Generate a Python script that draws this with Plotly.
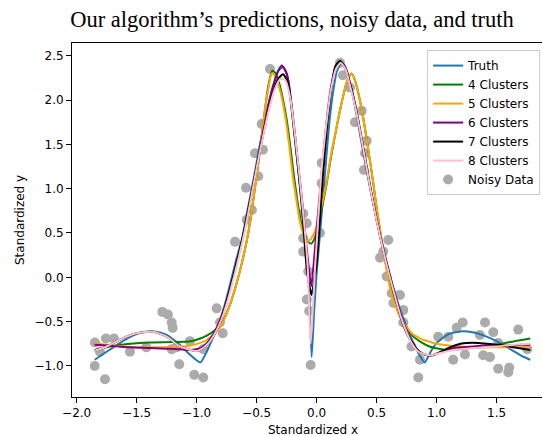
import plotly.graph_objects as go

# ---------------- data ----------------
truth_x = [-1.85, -1.75, -1.65, -1.55, -1.45, -1.35, -1.25, -1.15, -1.05, -0.97, -0.92, -0.87, -0.82, -0.77,
           -0.72, -0.67, -0.62, -0.57, -0.52, -0.47, -0.42, -0.37, -0.32, -0.28, -0.24, -0.2, -0.16, -0.12,
           -0.09, -0.065, -0.042, -0.02, 0.0, 0.025, 0.05, 0.08, 0.11, 0.14, 0.17, 0.21, 0.25, 0.29, 0.33,
           0.37, 0.41, 0.45, 0.5, 0.55, 0.6, 0.65, 0.7, 0.75, 0.8, 0.85, 0.9, 0.95, 1.0, 1.1, 1.2, 1.3, 1.4,
           1.5, 1.6, 1.7, 1.78]
truth_y = [-0.93, -0.84, -0.75, -0.67, -0.62, -0.61, -0.65, -0.75, -0.88, -0.96, -0.85, -0.70, -0.55, -0.33,
           -0.07, 0.2, 0.45, 0.8, 1.15, 1.52, 1.85, 2.13, 2.33, 2.37, 2.25, 1.8, 1.3, 0.8,
           0.35, -0.1, -0.9, -0.35, 0.05, 0.45, 0.85, 1.35, 1.8, 2.12, 2.33, 2.42, 2.33, 2.12, 1.85,
           1.55, 1.25, 0.98, 0.65, 0.35, 0.08, -0.17, -0.38, -0.56, -0.72, -0.86, -0.96, -0.84, -0.74, -0.64,
           -0.61, -0.62, -0.66, -0.72, -0.8, -0.88, -0.93]

c4_x = [-1.85, -1.7, -1.55, -1.4, -1.2, -1.05, -0.97, -0.92, -0.87, -0.82, -0.77, -0.72, -0.67, -0.62,
        -0.57, -0.52, -0.47, -0.43, -0.4, -0.37, -0.34, -0.31, -0.28, -0.25, -0.22, -0.19, -0.16, -0.13,
        -0.1, -0.07, -0.045, -0.02, 0.0, 0.04, 0.08, 0.12, 0.17, 0.21, 0.25, 0.29, 0.32, 0.36, 0.4, 0.43,
        0.47, 0.5, 0.55, 0.6, 0.65, 0.7, 0.75, 0.8, 0.87, 0.94, 1.08, 1.2, 1.36, 1.5, 1.65, 1.78]
c4_y = [-0.82, -0.775, -0.75, -0.735, -0.73, -0.72, -0.69, -0.66, -0.62, -0.56, -0.46, -0.3, -0.08, 0.18,
        0.5, 0.95, 1.45, 1.9, 2.18, 2.33, 2.3, 2.18, 2.0, 1.78, 1.48, 1.15, 0.86, 0.62,
        0.47, 0.4, 0.38, 0.43, 0.52, 0.76, 1.03, 1.36, 1.72, 1.98, 2.2, 2.3, 2.22, 2.0, 1.7, 1.44,
        1.08, 0.78, 0.35, 0.0, -0.27, -0.44, -0.56, -0.66, -0.73, -0.78, -0.82, -0.81, -0.79, -0.76, -0.72, -0.69]

c5_x = [-1.85, -1.75, -1.65, -1.55, -1.45, -1.35, -1.25, -1.15, -1.05, -0.97, -0.92, -0.87, -0.82, -0.77,
        -0.72, -0.67, -0.62, -0.57, -0.52, -0.47, -0.43, -0.4, -0.375, -0.35, -0.32, -0.29, -0.26, -0.23,
        -0.2, -0.17, -0.14, -0.11, -0.08, -0.05, -0.02, 0.0, 0.04, 0.08, 0.12, 0.17, 0.21, 0.25, 0.29,
        0.32, 0.36, 0.4, 0.43, 0.47, 0.5, 0.55, 0.6, 0.65, 0.7, 0.75, 0.8, 0.85, 0.9, 0.95, 1.0, 1.1, 1.2,
        1.35, 1.5, 1.65, 1.78]
c5_y = [-0.74, -0.76, -0.775, -0.785, -0.79, -0.79, -0.79, -0.785, -0.77, -0.74, -0.71, -0.66, -0.59, -0.47,
        -0.3, -0.08, 0.18, 0.5, 0.95, 1.45, 1.9, 2.15, 2.3, 2.28, 2.18, 2.02, 1.8, 1.5,
        1.15, 0.88, 0.63, 0.49, 0.41, 0.43, 0.5, 0.58, 0.8, 1.05, 1.38, 1.72, 1.98, 2.2, 2.3,
        2.22, 2.0, 1.7, 1.44, 1.08, 0.78, 0.35, -0.05, -0.3, -0.46, -0.56, -0.64, -0.68, -0.71, -0.73, -0.75,
        -0.77, -0.78, -0.79, -0.79, -0.79, -0.79]

c6_x = [-1.85, -1.75, -1.65, -1.55, -1.45, -1.35, -1.25, -1.15, -1.05, -0.97, -0.92, -0.87, -0.82, -0.77,
        -0.72, -0.67, -0.62, -0.57, -0.52, -0.47, -0.42, -0.37, -0.32, -0.29, -0.25, -0.2, -0.16, -0.12,
        -0.09, -0.065, -0.045, -0.025, 0.0, 0.03, 0.06, 0.09, 0.12, 0.16, 0.2, 0.24, 0.28, 0.32, 0.36,
        0.4, 0.45, 0.5, 0.55, 0.6, 0.65, 0.7, 0.75, 0.8, 0.85, 0.9, 0.95, 1.0, 1.1, 1.2, 1.3, 1.4, 1.5,
        1.6, 1.7, 1.78]
c6_y = [-0.76, -0.77, -0.78, -0.79, -0.795, -0.8, -0.805, -0.81, -0.82, -0.8, -0.75, -0.66, -0.53, -0.35,
        -0.12, 0.14, 0.42, 0.75, 1.1, 1.47, 1.82, 2.12, 2.33, 2.39, 2.3, 1.85, 1.35, 0.85,
        0.42, 0.1, -0.1, 0.15, 0.55, 1.0, 1.45, 1.85, 2.15, 2.38, 2.43, 2.37, 2.18, 1.95, 1.65,
        1.35, 0.98, 0.65, 0.35, 0.07, -0.18, -0.42, -0.6, -0.74, -0.83, -0.87, -0.88, -0.86, -0.81, -0.79,
        -0.78, -0.77, -0.77, -0.77, -0.76, -0.76]

c7_x = [-1.85, -1.75, -1.65, -1.55, -1.45, -1.36, -1.25, -1.15, -1.05, -1.0, -0.95, -0.9, -0.85, -0.8,
        -0.77, -0.72, -0.67, -0.62, -0.57, -0.52, -0.47, -0.42, -0.37, -0.32, -0.28, -0.24, -0.2, -0.16,
        -0.12, -0.083, -0.06, -0.042, -0.02, 0.0, 0.03, 0.055, 0.09, 0.12, 0.155, 0.195, 0.24, 0.28, 0.32,
        0.36, 0.4, 0.45, 0.5, 0.55, 0.6, 0.65, 0.7, 0.75, 0.8, 0.85, 0.9, 0.97, 1.05, 1.11, 1.2, 1.25,
        1.35, 1.42, 1.5, 1.64, 1.78]
c7_y = [-0.83, -0.78, -0.71, -0.65, -0.62, -0.615, -0.67, -0.77, -0.82, -0.83, -0.8, -0.74, -0.64, -0.5,
        -0.37, -0.12, 0.15, 0.43, 0.76, 1.1, 1.45, 1.78, 2.06, 2.24, 2.29, 2.2, 1.8, 1.3,
        0.75, 0.1, -0.1, -0.2, -0.02, 0.15, 0.72, 1.21, 1.75, 2.1, 2.38, 2.44, 2.35, 2.17, 1.95,
        1.68, 1.38, 1.0, 0.65, 0.33, 0.06, -0.2, -0.45, -0.63, -0.75, -0.83, -0.87, -0.88, -0.83, -0.79, -0.75,
        -0.74, -0.74, -0.75, -0.76, -0.79, -0.82]

c8_x = [-1.85, -1.75, -1.65, -1.55, -1.45, -1.36, -1.25, -1.15, -1.05, -1.0, -0.95, -0.9, -0.85, -0.8,
        -0.75, -0.7, -0.65, -0.6, -0.55, -0.5, -0.45, -0.4, -0.35, -0.3, -0.26, -0.22, -0.18, -0.14,
        -0.1, -0.075, -0.05, -0.03, -0.014, 0.0, 0.04, 0.08, 0.12, 0.16, 0.2, 0.24, 0.28, 0.32, 0.36,
        0.4, 0.45, 0.5, 0.55, 0.6, 0.65, 0.7, 0.75, 0.8, 0.85, 0.94, 1.04, 1.14, 1.3, 1.5, 1.65, 1.78]
c8_y = [-0.83, -0.78, -0.71, -0.65, -0.62, -0.615, -0.67, -0.77, -0.82, -0.83, -0.8, -0.74, -0.64, -0.5,
        -0.3, -0.05, 0.22, 0.52, 0.87, 1.23, 1.57, 1.88, 2.12, 2.24, 2.22, 2.02, 1.6, 1.1,
        0.55, 0.12, -0.75, -0.3, 0.09, 0.38, 1.2, 1.72, 2.12, 2.35, 2.42, 2.35, 2.15, 1.93, 1.66,
        1.36, 0.98, 0.64, 0.33, 0.05, -0.2, -0.44, -0.62, -0.76, -0.84, -0.88, -0.85, -0.82, -0.8, -0.78, -0.76, -0.75]

noisy_x = [-1.848, -1.85, -1.764, -1.756, -1.69, -1.806, -1.556, -1.42, -1.286, -1.24, -1.208, -1.2, -1.208,
           -1.17, -1.145, -1.056, -1.02, -0.945, -0.945, -0.833, -0.806, -0.783,
           -0.68, -0.583, -0.54, -0.589, -0.487, -0.514, -0.448, -0.458, -0.389,
           -0.112, -0.083, -0.112, -0.112, -0.07, -0.083, -0.062, -0.05, 0.028, 0.042, 0.042,
           0.194, 0.219, 0.278, 0.375, 0.319, 0.417, 0.403, 0.394,
           0.597, 0.555, 0.528, 0.583, 0.625, 0.694, 0.64, 0.722, 0.722, 0.79, 0.861, 0.847,
           1.013, 1.097, 1.167, 1.217, 1.138, 1.236, 1.403, 1.36, 1.472, 1.388, 1.444, 1.513, 1.605,
           1.597, 1.68, 1.755, 1.513]
noisy_y = [-0.736, -1.0, -1.15, -0.69, -0.69, -0.84, -0.84, -0.79, -0.39, -0.42, -0.51, -0.57, -0.81,
           -0.79, -0.98, -0.72, -1.10, -1.13, -0.81, -0.35, -0.51, -0.63,
           0.40, 0.65, 0.76, 1.01, 1.14, 1.40, 1.44, 1.73, 2.35,
           0.72, 0.61, 0.44, 0.29, 0.065, -0.25, -0.38, -0.99, 0.50, 1.29, 1.06,
           2.42, 2.28, 2.14, 1.88, 1.75, 1.54, 1.40, 1.21,
           0.42, 0.29, 0.22, 0.01, -0.18, -0.20, -0.29, -0.37, -0.51, -0.78, -0.93, -1.13,
           -0.67, -0.67, -0.57, -0.51, -0.93, -0.87, -0.51, -0.65, -0.62, -0.88, -0.90, -1.03, -1.02,
           -1.07, -0.59, -0.81, -0.74]

x_ticks = [-2.0, -1.5, -1.0, -0.5, 0.0, 0.5, 1.0, 1.5]
x_tick_labels = ["\u22122.0", "\u22121.5", "\u22121.0", "\u22120.5", "0.0", "0.5", "1.0", "1.5"]
y_ticks = [-1.0, -0.5, 0.0, 0.5, 1.0, 1.5, 2.0, 2.5]
y_tick_labels = ["\u22121.0", "\u22120.5", "0.0", "0.5", "1.0", "1.5", "2.0", "2.5"]

# ---------------- figure ----------------
fig = go.Figure()

fig.add_trace(go.Scatter(x=noisy_x, y=noisy_y, mode="markers", name="Noisy Data",
                         marker=dict(size=10, color="#ababab", line=dict(width=0)),
                         legendrank=7))

series = [
    ("Truth", truth_x, truth_y, "#1f77b4"),
    ("4 Clusters", c4_x, c4_y, "#008000"),
    ("5 Clusters", c5_x, c5_y, "#ffa500"),
    ("6 Clusters", c6_x, c6_y, "#800080"),
    ("7 Clusters", c7_x, c7_y, "#000000"),
    ("8 Clusters", c8_x, c8_y, "#ffc0cb"),
]
for i, (name, xs, ys, col) in enumerate(series):
    fig.add_trace(go.Scatter(x=xs, y=ys, mode="lines", name=name,
                             line=dict(color=col, width=2, shape="spline", smoothing=0.6),
                             legendrank=i + 1))

tick_font = dict(family="DejaVu Sans", size=12, color="#000000")

fig.update_layout(
    width=542, height=436,
    margin=dict(l=72, r=0, t=43, b=39),
    paper_bgcolor="white", plot_bgcolor="white",
    showlegend=True,
    title=dict(text="Our algorithm\u2019s predictions, noisy data, and truth",
               font=dict(family="Liberation Serif", size=22.5, color="#000000"),
               x=292 / 542, xref="container", xanchor="center",
               y=1 - 19 / 436, yref="container", yanchor="middle"),
    legend=dict(x=0.996, y=0.98, xanchor="right", yanchor="top",
                bgcolor="rgba(255,255,255,0.8)", bordercolor="#cccccc", borderwidth=1,
                font=dict(family="DejaVu Sans", size=12, color="#000000"),
                tracegroupgap=0, itemwidth=30),
    xaxis=dict(range=[-2.039, 1.878], tickvals=x_ticks, ticktext=x_tick_labels,
               showgrid=False, zeroline=False, showline=True, linecolor="#000000", linewidth=1,
               mirror=True, ticks="outside", ticklen=5, tickwidth=1, tickcolor="#000000",
               tickfont=tick_font),
    yaxis=dict(range=[-1.35, 2.643], tickvals=y_ticks, ticktext=y_tick_labels,
               showgrid=False, zeroline=False, showline=True, linecolor="#000000", linewidth=1,
               mirror=False, ticks="outside", ticklen=5, tickwidth=1, tickcolor="#000000",
               tickfont=tick_font),
    annotations=[
        dict(text="Standardized x", xref="paper", yref="paper",
             x=(313 - 72) / 470, y=(397 - 430) / 354, xanchor="center", yanchor="middle",
             showarrow=False, font=dict(family="DejaVu Sans", size=12, color="#000000")),
        dict(text="Standardized y", xref="paper", yref="paper",
             x=(20 - 72) / 470, y=0.5, xanchor="center", yanchor="middle", textangle=-90,
             showarrow=False, font=dict(family="DejaVu Sans", size=12, color="#000000")),
    ],
)

fig.write_html("out.html")
